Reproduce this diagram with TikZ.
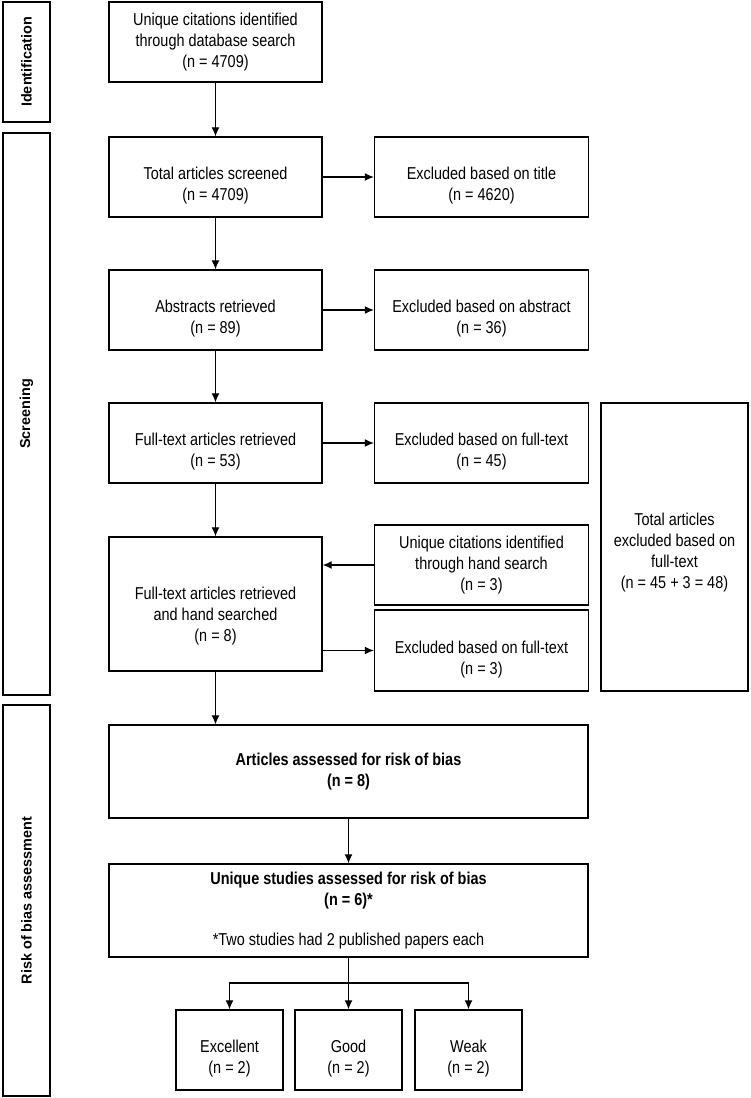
\documentclass[tikz,border=0pt]{standalone}
\usepackage{fontspec}
\setmainfont{Liberation Sans}
\newfontfamily\narrowfont{Liberation Sans}[FakeStretch=0.84]
\usetikzlibrary{arrows.meta}
\newcommand{\dropline}[1][30pt]{\rule{0pt}{#1}}

\begin{document}
\begin{tikzpicture}[x=1pt, y=-1pt,
    box/.style={draw, line width=1.4pt, align=center, inner sep=2pt,
        font=\narrowfont\fontsize{17.2}{21}\selectfont},
    side/.style={draw, line width=1.4pt, rotate=90, minimum height=47pt,
        font=\fontsize{14.4}{17}\selectfont\bfseries},
    arr/.style={-{Latex[length=9pt,width=8pt]}, line width=1.2pt}]
    \useasboundingbox (0,0) rectangle (750,1098);

    % phase labels
    \node[side, minimum width=120pt] (identification) at (26.5,62) {Identification};
    \node[side, minimum width=562pt] (screening) at (26.5,414) {Screening};
    \node[side, minimum width=391pt] (riskphase) at (26.5,900.5) {Risk of bias assessment};

    % main column
    \node[box, minimum width=213pt, minimum height=80pt] (dbsearch) at (215.5,42) {Unique citations identified\\through database search\\(n = 4709)};
    \node[box, minimum width=213pt, minimum height=80pt] (screened) at (215.5,177) {\dropline Total articles screened\\(n = 4709)};
    \node[box, minimum width=213pt, minimum height=80pt] (abstracts) at (215.5,310) {\dropline Abstracts retrieved\\(n = 89)};
    \node[box, minimum width=213pt, minimum height=80pt] (fulltext) at (215.5,443) {\dropline Full-text articles retrieved\\(n = 53)};
    \node[box, minimum width=213pt, minimum height=134pt] (handsearched) at (215.5,604) {\dropline[37pt]Full-text articles retrieved\\and hand searched\\(n = 8)};

    % exclusions
    \node[box, minimum width=214pt, minimum height=80pt] (extitle) at (481.5,177) {\dropline Excluded based on title\\(n = 4620)};
    \node[box, minimum width=214pt, minimum height=80pt] (exabstract) at (481.5,310) {\dropline Excluded based on abstract\\(n = 36)};
    \node[box, minimum width=214pt, minimum height=80pt] (exfull) at (481.5,443) {\dropline Excluded based on full-text\\(n = 45)};
    \node[box, minimum width=214pt, minimum height=80pt] (handcit) at (481.5,565) {Unique citations identified\\through hand search\\(n = 3)};
    \node[box, minimum width=214pt, minimum height=81pt] (exhand) at (481.5,650.5) {\dropline Excluded based on full-text\\(n = 3)};
    \node[box, minimum width=147pt, minimum height=288pt] (extotal) at (674.5,547) {\dropline[23pt]Total articles\\excluded based on\\full-text\\(n = 45 + 3 = 48)};

    % risk of bias
    \node[box, minimum width=479pt, minimum height=93pt] (assessed) at (348.5,771.5) {\textbf{Articles assessed for risk of bias}\\\textbf{(n = 8)}};
    \node[box, minimum width=479pt, minimum height=93pt] (unique) at (348.5,910.5) {\textbf{Unique studies assessed for risk of bias}\\\textbf{(n = 6)*}\\[19pt]{*}Two studies had 2 published papers each};
    \node[box, minimum width=107pt, minimum height=80pt] (excellent) at (229.5,1050) {\dropline Excellent\\(n = 2)};
    \node[box, minimum width=107pt, minimum height=80pt] (good) at (348.5,1050) {\dropline Good\\(n = 2)};
    \node[box, minimum width=107pt, minimum height=80pt] (weak) at (468.5,1050) {\dropline Weak\\(n = 2)};
    \coordinate (fork) at (348.5,983);

    \draw[arr] (dbsearch) -- (screened);
    \draw[arr] (screened) -- (extitle);
    \draw[arr] (screened) -- (abstracts);
    \draw[arr] (abstracts) -- (exabstract);
    \draw[arr] (abstracts) -- (fulltext);
    \draw[arr] (fulltext) -- (exfull);
    \draw[arr] (fulltext) -- (handsearched);
    \draw[arr] (handcit.west) -- (handcit.west -| handsearched.east);
    \draw[arr] (handsearched.east |- exhand.west) -- (exhand.west);
    \draw[arr] (handsearched) -- (handsearched |- assessed.north);
    \draw[arr] (assessed) -- (unique);
    \draw[arr] (unique) -- (good);
    \draw[arr] (fork) -| (excellent);
    \draw[arr] (fork) -| (weak);
\end{tikzpicture}
\end{document}
